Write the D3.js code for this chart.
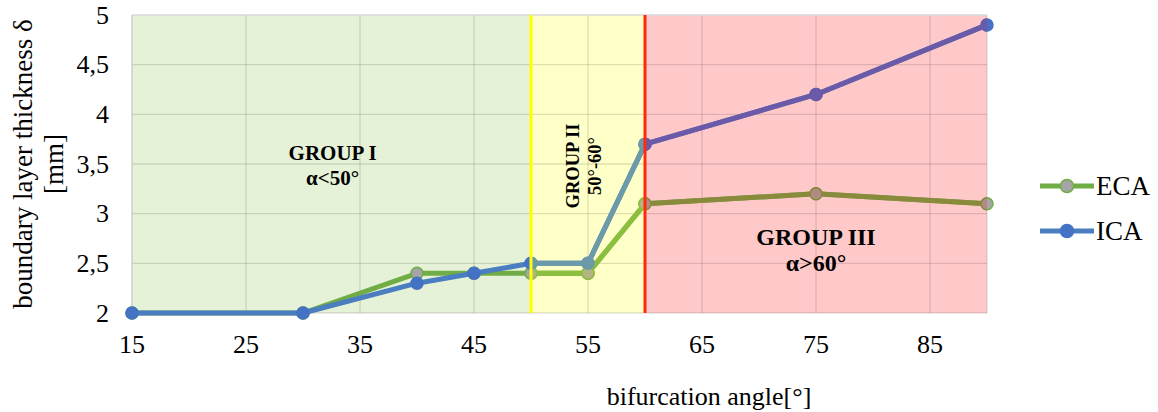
<!DOCTYPE html>
<html>
<head>
<meta charset="utf-8">
<script src="https://cdn.jsdelivr.net/npm/d3@7"></script>
<style>
  body { margin: 0; background: #fff; }
  svg { display: block; font-family: "Liberation Serif", "DejaVu Serif", serif; }
</style>
</head>
<body>
<div class="chart"></div>
<script>
(function() {
  // data
  var angles = [15, 30, 40, 45, 50, 55, 60, 75, 90];
  var eca = [2, 2, 2.4, 2.4, 2.4, 2.4, 3.1, 3.2, 3.1];
  var ica = [2, 2, 2.3, 2.4, 2.5, 2.5, 3.7, 4.2, 4.9];
  var xTicks = [15, 25, 35, 45, 55, 65, 75, 85];
  var yTicks = [2, 2.5, 3, 3.5, 4, 4.5, 5];
  var groups = [
    {name: "GROUP I", sub: "α<50°", from: 15, to: 50},
    {name: "GROUP II", sub: "50°-60°", from: 50, to: 60},
    {name: "GROUP III", sub: "α>60°", from: 60, to: 90}
  ];

  var width = 1158, height = 412,
    margin = {top: 15, left: 132, right: 171, bottom: 99},
    w = width - margin.left - margin.right,
    h = height - margin.top - margin.bottom;

  var fmt = d3.formatLocale({decimal: ",", thousands: ".", grouping: [3], currency: ["", ""]}).format("~g");

  var x = d3.scaleLinear().domain([15, 90]).range([0, w]);
  var y = d3.scaleLinear().domain([2, 5]).range([h, 0]);

  var svg = d3.select(".chart").append("svg")
    .attr("width", width)
    .attr("height", height);
  var g = svg.append("g").attr("transform", "translate(" + margin.left + "," + margin.top + ")");

  // region fills
  var regionFill = ["#e5f2d7", "#ffffc8", "#ffc9c9"];
  g.selectAll("rect.region")
    .data(groups)
    .enter().append("rect")
      .attr("class", "region")
      .attr("x", function(d) { return x(d.from); })
      .attr("width", function(d) { return x(d.to) - x(d.from); })
      .attr("y", 0)
      .attr("height", h)
      .attr("fill", function(d, i) { return regionFill[i]; });

  // grid
  g.append("g").selectAll("line")
    .data(xTicks.slice(1).concat([90]))
    .enter().append("line")
      .attr("x1", function(d) { return x(d); })
      .attr("x2", function(d) { return x(d); })
      .attr("y1", 0).attr("y2", h)
      .attr("stroke", "rgba(0,0,0,0.12)")
      .attr("stroke-width", 1.3);
  g.append("g").selectAll("line")
    .data(yTicks)
    .enter().append("line")
      .attr("x1", 0).attr("x2", w)
      .attr("y1", function(d) { return y(d); })
      .attr("y2", function(d) { return y(d); })
      .attr("stroke", function(d) { return d === 5 ? "#d9d9d9" : "rgba(0,0,0,0.12)"; })
      .attr("stroke-width", 1.3);
  g.append("line")
    .attr("x1", 0).attr("x2", 0).attr("y1", 0).attr("y2", h)
    .attr("stroke", "#c8c8c8").attr("stroke-width", 1.3);

  // axes labels
  g.append("g").selectAll("text")
    .data(xTicks)
    .enter().append("text")
      .attr("x", function(d) { return x(d); })
      .attr("y", h + 40)
      .attr("text-anchor", "middle")
      .style("font-size", "26px")
      .text(function(d) { return d; });
  g.append("g").selectAll("text")
    .data(yTicks)
    .enter().append("text")
      .attr("x", -23)
      .attr("y", function(d) { return y(d); })
      .attr("dy", ".33em")
      .attr("text-anchor", "end")
      .style("font-size", "26px")
      .text(function(d) { return fmt(d); });

  svg.append("text")
    .attr("x", 709).attr("y", 405)
    .attr("text-anchor", "middle")
    .style("font-size", "26px")
    .text("bifurcation angle[°]");
  var yt = svg.append("text")
    .attr("transform", "translate(32,164) rotate(-90)")
    .attr("text-anchor", "middle")
    .style("font-size", "27px");
  yt.append("tspan").attr("x", 0).attr("y", 0).text("boundary layer thickness δ");
  yt.append("tspan").attr("x", 0).attr("y", 31).text("[mm]");

  // series, drawn in base colours then tinted where the yellow and pink areas cover them
  var series = [
    {name: "ECA", values: eca, line: ["#70ad47", "#8cbf3e", "#8a8a3c"], dot: ["#a5a5a5", "#b3b383", "#b08a84"], dotStroke: ["#70ad47", "#8cbf3e", "#8a8a3c"]},
    {name: "ICA", values: ica, line: ["#4a7ec0", "#6c9aa8", "#6a5aa8"], dot: ["#4472c4", "#6c9aa8", "#6a5aa8"], dotStroke: ["#4472c4", "#6c9aa8", "#6a5aa8"]}
  ];
  var line = d3.line()
    .x(function(d, i) { return x(angles[i]); })
    .y(function(d) { return y(d); });

  var defs = svg.append("defs");
  groups.forEach(function(gr, k) {
    if (k === 0) return;
    defs.append("clipPath").attr("id", "clip" + k)
      .append("rect")
        .attr("x", x(gr.from))
        .attr("width", x(gr.to) - x(gr.from))
        .attr("y", -20)
        .attr("height", h + 20);
  });

  [0, 1, 2].forEach(function(k) {
    var layer = g.append("g");
    if (k > 0) layer.attr("clip-path", "url(#clip" + k + ")");
    series.forEach(function(s) {
      layer.append("path")
        .attr("d", line(s.values))
        .attr("fill", "none")
        .attr("stroke", s.line[k])
        .attr("stroke-width", 5)
        .attr("stroke-linejoin", "round");
      layer.selectAll(null)
        .data(s.values)
        .enter().append("circle")
          .attr("cx", function(d, i) { return x(angles[i]); })
          .attr("cy", function(d) { return y(d); })
          .attr("r", 6)
          .attr("fill", s.dot[k])
          .attr("stroke", s.dotStroke[k])
          .attr("stroke-width", 1.5);
    });
  });

  // group boundaries
  var bounds = [{v: 50, c: "#ffff00"}, {v: 60, c: "#ff2a0a"}];
  g.selectAll("line.bound")
    .data(bounds)
    .enter().append("line")
      .attr("class", "bound")
      .attr("x1", function(d) { return x(d.v); })
      .attr("x2", function(d) { return x(d.v); })
      .attr("y1", 0).attr("y2", h)
      .attr("stroke", function(d) { return d.c; })
      .attr("stroke-width", 3);

  // group labels
  var gl = g.append("g").style("font-weight", "bold");
  gl.append("text").attr("x", x(32.6)).attr("y", 145).attr("text-anchor", "middle")
    .style("font-size", "21px").text(groups[0].name);
  gl.append("text").attr("x", x(32.6)).attr("y", 170).attr("text-anchor", "middle")
    .style("font-size", "21px").text(groups[0].sub);
  var g2 = gl.append("text")
    .attr("transform", "translate(" + x(54.2) + ",151) rotate(-90)")
    .attr("text-anchor", "middle")
    .style("font-size", "18.5px");
  g2.append("tspan").attr("x", 0).attr("y", 0).text(groups[1].name);
  g2.append("tspan").attr("x", 0).attr("y", 22).text(groups[1].sub);
  gl.append("text").attr("x", x(75)).attr("y", 230).attr("text-anchor", "middle")
    .style("font-size", "24px").text(groups[2].name);
  gl.append("text").attr("x", x(75)).attr("y", 256).attr("text-anchor", "middle")
    .style("font-size", "24px").text(groups[2].sub);

  // legend
  var lg = svg.append("g").attr("transform", "translate(1040,186)")
    .selectAll("g")
      .data(series)
    .enter().append("g")
      .attr("transform", function(d, i) { return "translate(0," + i * 45 + ")"; });
  lg.append("line")
    .attr("x1", 0).attr("x2", 54)
    .attr("stroke", function(d) { return d.line[0]; })
    .attr("stroke-width", 5);
  lg.append("circle")
    .attr("cx", 27).attr("r", 6.5)
    .attr("fill", function(d) { return d.dot[0]; })
    .attr("stroke", function(d) { return d.dotStroke[0]; })
    .attr("stroke-width", 1.5);
  lg.append("text")
    .attr("x", 56).attr("dy", ".33em")
    .style("font-size", "27px")
    .text(function(d) { return d.name; });
})();
</script>
</body>
</html>
